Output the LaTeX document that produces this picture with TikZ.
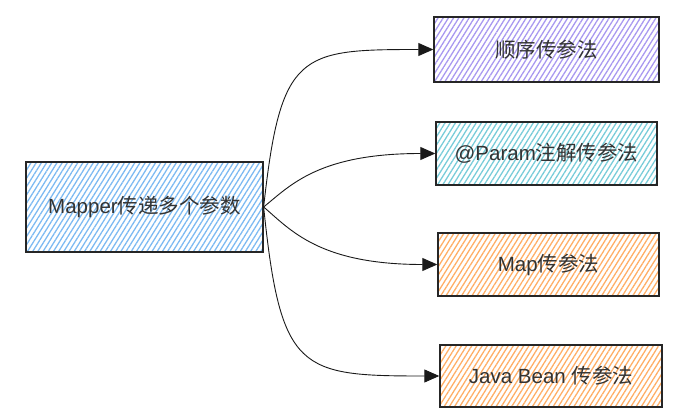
\documentclass[tikz,border=0pt]{standalone}
\usepackage{fontspec}
\setmainfont{Liberation Sans}
\newfontfamily\cjk{Noto Sans CJK SC}
\usetikzlibrary{arrows.meta,patterns.meta}
\definecolor{hblue}{HTML}{7DBAF2}
\definecolor{hpurple}{HTML}{A898F0}
\definecolor{hteal}{HTML}{78CCD9}
\definecolor{horange}{HTML}{FFAE66}
\definecolor{txt}{HTML}{333333}
\begin{document}
\begin{tikzpicture}[x=1pt,y=-1pt,
  box/.style={draw=black!85, line width=1.4pt, inner sep=0pt, text=txt,
    font=\fontsize{20.5}{24}\selectfont},
  hatch/.style={pattern={Lines[angle=58,distance=4.4pt,line width=1.3pt]}, pattern color=#1},
  conn/.style={draw=black!90, line width=0.9pt, -{Triangle[length=15pt,width=13pt]}}]
\useasboundingbox (0,0) rectangle (689,420);
\node[box, hatch=hblue, minimum width=237pt, minimum height=90pt] (main) at (144.5,207) {Mapper{\cjk 传递多个参数}};
\node[box, hatch=hpurple, minimum width=225pt, minimum height=65pt] (b1) at (546.5,49.5) {\cjk 顺序传参法};
\node[box, hatch=hteal, minimum width=221pt, minimum height=63pt] (b2) at (546.5,153.5) {@Param{\cjk 注解传参法}};
\node[box, hatch=horange, minimum width=221pt, minimum height=63pt] (b3) at (548.5,264.5) {Map{\cjk 传参法}};
\node[box, hatch=horange, minimum width=222pt, minimum height=62pt] (b4) at (551,376) {Java Bean {\cjk 传参法}};
\draw[conn] (main.east) .. controls +(17,-155) and +(-134,0) .. (b1.west);
\draw[conn] (main.east) .. controls +(27,-22) and +(-116,0) .. (b2.west);
\draw[conn] (main.east) .. controls +(27,23) and +(-118,0) .. (b3.west);
\draw[conn] (main.east) .. controls +(17,165) and +(-140,0) .. (b4.west);
\end{tikzpicture}
\end{document}
